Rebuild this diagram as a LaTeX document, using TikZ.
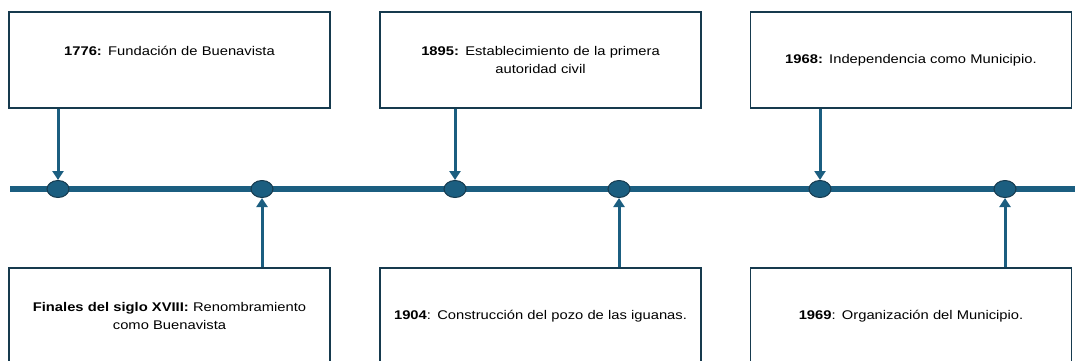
\documentclass[tikz,border=0pt]{standalone}
\usepackage{fontspec}
\setmainfont[FakeStretch=1.17]{Liberation Sans}
\usetikzlibrary{arrows.meta,shapes.geometric}
\definecolor{linea}{RGB}{27,94,128}
\definecolor{borde}{RGB}{22,58,78}
\begin{document}
\begin{tikzpicture}[x=1pt, y=-1pt,
    evento/.style={draw=borde, line width=1.2pt, fill=white, minimum width=321pt, minimum height=96pt,
      text width=300pt, align=center, font=\fontsize{12.6}{18.5}\selectfont},
    punto/.style={ellipse, draw=borde, line width=1pt, fill=linea, minimum width=22pt, minimum height=17pt, inner sep=0pt},
    flecha/.style={linea, line width=3pt, -{Triangle[width=11pt,length=9pt]}}]
    \useasboundingbox (0,0) rectangle (1075,360);
    \clip (0,0) rectangle (1075,360);
    % eje del tiempo
    \coordinate (ini) at (10,189);
    \coordinate (fin) at (1075,189);
    \draw[linea, line width=6.5pt] (ini) -- (fin);
    \node[punto] (p1) at (58,189) {};
    \node[punto] (p2) at (262,189) {};
    \node[punto] (p3) at (455,189) {};
    \node[punto] (p4) at (619,189) {};
    \node[punto] (p5) at (820,189) {};
    \node[punto] (p6) at (1005,189) {};
    % eventos de arriba
    \node[evento] (e1) at (169.5,60) {\textbf{1776:} Fundación de Buenavista\\\mbox{}};
    \node[evento] (e3) at (540.5,60) {\textbf{1895:} Establecimiento de la primera\\autoridad civil};
    \node[evento] (e5) at (911,60) {\textbf{1968:} Independencia como Municipio.};
    % eventos de abajo
    \node[evento] (e2) at (169.5,316) {\textbf{Finales del siglo XVIII:} Renombramiento\\como Buenavista};
    \node[evento] (e4) at (540.5,316) {\textbf{1904}: Construcción del pozo de las iguanas.};
    \node[evento] (e6) at (911,316) {\textbf{1969}: Organización del Municipio.};
    \draw[flecha] (p1.north |- e1.south) -- (p1.north);
    \draw[flecha] (p3.north |- e3.south) -- (p3.north);
    \draw[flecha] (p5.north |- e5.south) -- (p5.north);
    \draw[flecha] (p2.south |- e2.north) -- (p2.south);
    \draw[flecha] (p4.south |- e4.north) -- (p4.south);
    \draw[flecha] (p6.south |- e6.north) -- (p6.south);
\end{tikzpicture}
\end{document}
